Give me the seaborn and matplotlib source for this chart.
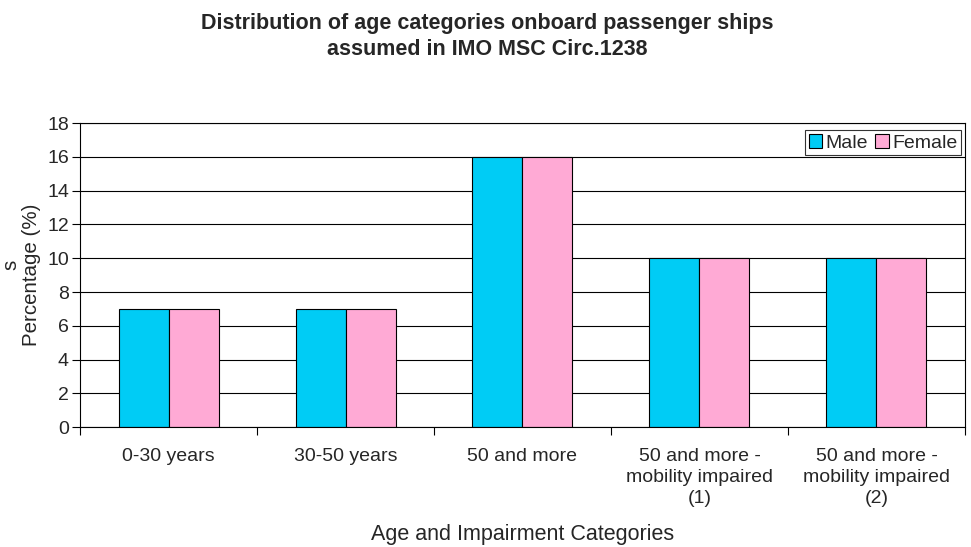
import matplotlib
matplotlib.use("Agg")
import matplotlib.pyplot as plt
import pandas as pd
import seaborn as sns
from matplotlib.patches import Patch
from matplotlib.ticker import FixedLocator

categories = ["0-30 years", "30-50 years", "50 and more",
              "50 and more -\nmobility impaired\n(1)",
              "50 and more -\nmobility impaired\n(2)"]
male = [7, 7, 16, 10, 10]
female = [7, 7, 16, 10, 10]
series = ["Male", "Female"]
colors = ["#00CCF5", "#FFAAD5"]

df = pd.DataFrame({
    "category": categories * 2,
    "value": male + female,
    "sex": ["Male"] * len(categories) + ["Female"] * len(categories),
})

sns.set_style("white")
plt.rcParams["font.family"] = ["Liberation Sans", "DejaVu Sans"]

fig = plt.figure(figsize=(9.71, 5.47), dpi=100)
ax = fig.add_axes([0.0824, 0.219, 0.9114, 0.556])

sns.barplot(data=df, x="category", y="value", hue="sex", hue_order=series,
            palette=colors, width=0.565, edgecolor="black", linewidth=0.8,
            saturation=1, legend=False, ax=ax)

ax.set_ylim(0, 18)
ax.set_yticks(range(0, 19, 2))
ax.set_xlim(-0.5, len(categories) - 0.5)
ax.yaxis.grid(True, color="black", linewidth=0.8)
ax.set_axisbelow(True)
for s in ax.spines.values():
    s.set_visible(True)
    s.set_color("black")
    s.set_linewidth(0.8)

ax.tick_params(axis="y", which="major", direction="out", length=6, width=0.8,
               color="black", labelsize=14, pad=2, left=True)
ax.tick_params(axis="x", which="major", length=0, labelsize=14, pad=15)
ax.xaxis.set_minor_locator(FixedLocator([i + 0.5 for i in range(-1, len(categories))]))
ax.tick_params(axis="x", which="minor", direction="out", length=6, width=0.8,
               color="black", bottom=True)
for t in ax.get_xticklabels():
    t.set_linespacing(1.32)

ax.set_xlabel("Age and Impairment Categories", fontsize=15.5, labelpad=12)
ax.set_ylabel("Percentage (%)", fontsize=14.8, labelpad=4)

fig.suptitle("Distribution of age categories onboard passenger ships\nassumed in IMO MSC Circ.1238",
             fontsize=15.5, fontweight="bold", y=0.976, x=0.502, linespacing=1.3)

handles = [Patch(facecolor=c, edgecolor="black", linewidth=0.8) for c in colors]
leg = ax.legend(handles, series, loc="upper right", bbox_to_anchor=(1.0, 0.99),
                fontsize=14, frameon=True, fancybox=False, ncol=2,
                handlelength=0.7, handleheight=0.7, handletextpad=0.15,
                columnspacing=0.4, borderpad=0.2, borderaxespad=0.2)
leg.get_frame().set_edgecolor("black")
leg.get_frame().set_linewidth(0.8)

fig.text(0.001, 0.515, "s", rotation=90, fontsize=14.8, va="center", ha="left")

fig.savefig("out.png", dpi=100)
